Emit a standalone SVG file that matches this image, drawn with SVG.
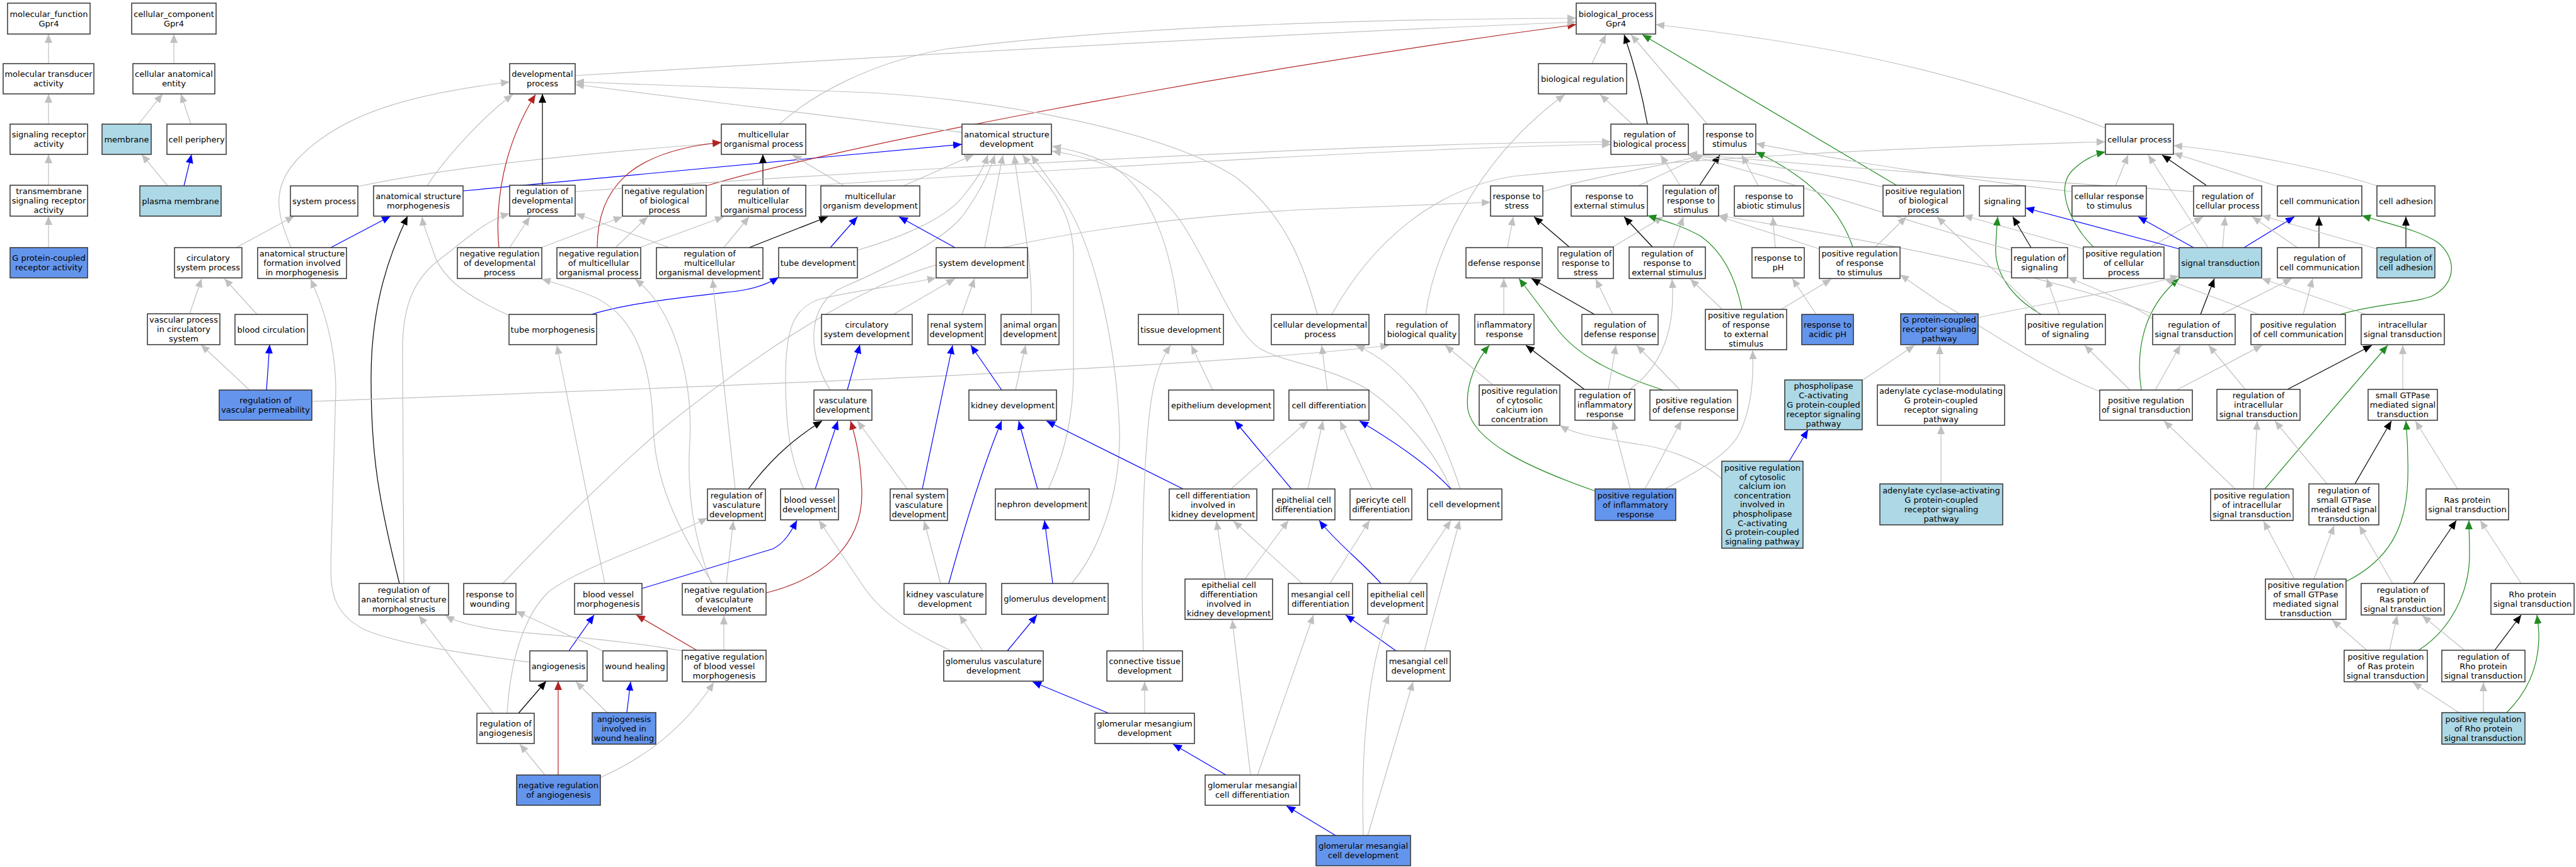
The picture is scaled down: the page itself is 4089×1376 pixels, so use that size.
<svg xmlns="http://www.w3.org/2000/svg" width="4089" height="1376" viewBox="0 0 4089 1376">
<style>
.n rect{stroke:#333;stroke-width:1.5;fill:#fff}
.n.lb rect{fill:#add8e6}
.n.cf rect{fill:#6495ed}
.n text{font-family:"DejaVu Sans",sans-serif;font-size:13px;text-anchor:middle;fill:#000}
#edges path{fill:none;stroke-width:1.2}
#edges .g{stroke:#c0c0c0;marker-end:url(#ag)}
#edges .k{stroke:#000;marker-end:url(#ak)}
#edges .b{stroke:#0000ff;marker-end:url(#ab)}
#edges .r{stroke:#b22222;marker-end:url(#ar)}
#edges .v{stroke:#228b22;marker-end:url(#av)}
</style>
<defs>
<marker id="ag" viewBox="0 0 14 12" markerWidth="14" markerHeight="12" refX="14" refY="6" orient="auto" markerUnits="userSpaceOnUse"><path d="M0,0L14,6L0,12z" fill="#c0c0c0"/></marker>
<marker id="ak" viewBox="0 0 14 12" markerWidth="14" markerHeight="12" refX="14" refY="6" orient="auto" markerUnits="userSpaceOnUse"><path d="M0,0L14,6L0,12z" fill="#000"/></marker>
<marker id="ab" viewBox="0 0 14 12" markerWidth="14" markerHeight="12" refX="14" refY="6" orient="auto" markerUnits="userSpaceOnUse"><path d="M0,0L14,6L0,12z" fill="#0000ff"/></marker>
<marker id="ar" viewBox="0 0 14 12" markerWidth="14" markerHeight="12" refX="14" refY="6" orient="auto" markerUnits="userSpaceOnUse"><path d="M0,0L14,6L0,12z" fill="#b22222"/></marker>
<marker id="av" viewBox="0 0 14 12" markerWidth="14" markerHeight="12" refX="14" refY="6" orient="auto" markerUnits="userSpaceOnUse"><path d="M0,0L14,6L0,12z" fill="#228b22"/></marker>
</defs>
<rect width="4089" height="1376" fill="#fff"/>
<g id="edges">
<path class="g" d="M77,101L77,54"/>
<path class="g" d="M77,197L77,149"/>
<path class="g" d="M77,294L77,245"/>
<path class="g" d="M77,393L77,343"/>
<path class="g" d="M276,101L276,54"/>
<path class="g" d="M220,197L258,149"/>
<path class="g" d="M303,197L287,149"/>
<path class="g" d="M266,295L225,245"/>
<path class="b" d="M292,295L304,245"/>
<path class="g" d="M375,393L467,343"/>
<path class="b" d="M525,393L620,343"/>
<path class="g" d="M462,393C440,340 430,300 470,255C540,180 650,150 809,130"/>
<path class="g" d="M568,296C700,268 900,245 1145,227"/>
<path class="b" d="M735,303L1527,229"/>
<path class="g" d="M678,295C700,260 760,190 814,150"/>
<path class="k" d="M634,926C600,790 589,720 589,600C589,480 620,400 647,343"/>
<path class="g" d="M807,500C740,470 700,440 688,400C680,375 672,360 670,344"/>
<path class="b" d="M939,499C1000,480 1100,470 1170,462C1200,458 1220,450 1236,440"/>
<path class="g" d="M641,926L639,560C638,480 660,440 700,410C740,380 770,350 809,339"/>
<path class="g" d="M396,619L319,547"/>
<path class="b" d="M423,619L428,547"/>
<path class="g" d="M495,637C1100,615 1900,585 2205,548"/>
<path class="g" d="M301,498L320,442"/>
<path class="g" d="M408,499L356,442"/>
<path class="g" d="M841,1051C760,1040 640,1025 580,1000C530,975 525,940 525,900L533,620C533,540 510,480 493,443"/>
<path class="g" d="M783,1132L665,977"/>
<path class="g" d="M1083,1033C1000,1018 900,1010 820,1003C770,998 730,990 707,977"/>
<path class="k" d="M861,294L861,149"/>
<path class="r" d="M792,393C785,320 800,230 850,150"/>
<path class="g" d="M809,393L841,344"/>
<path class="g" d="M859,393L988,344"/>
<path class="r" d="M948,393C948,300 1000,240 1145,226"/>
<path class="g" d="M977,393L1028,344"/>
<path class="g" d="M1015,393L1149,344"/>
<path class="g" d="M1149,393L1189,344"/>
<path class="k" d="M1189,393L1314,344"/>
<path class="g" d="M1062,393L914,339"/>
<path class="k" d="M1211,294L1211,245"/>
<path class="g" d="M1340,295L1258,246"/>
<path class="b" d="M1318,393L1361,344"/>
<path class="g" d="M1361,397C1420,380 1500,350 1530,310C1550,285 1560,270 1568,246"/>
<path class="r" d="M1121,295C1300,240 1900,120 2502,39"/>
<path class="g" d="M913,304C1400,270 2200,225 2557,225"/>
<path class="g" d="M1279,295C1600,275 2200,235 2557,229"/>
<path class="g" d="M1237,197C1290,150 1380,100 1500,78C1800,40 2200,30 2502,29"/>
<path class="g" d="M913,120C1400,90 2000,55 2502,35"/>
<path class="g" d="M1527,210C1420,198 1100,158 913,134"/>
<path class="g" d="M2091,499C2070,420 2040,340 1960,280C1850,210 1600,160 1380,147L913,130"/>
<path class="g" d="M1434,295L1545,246"/>
<path class="g" d="M1563,393L1592,246"/>
<path class="g" d="M1637,499C1640,420 1620,330 1610,246"/>
<path class="g" d="M1664,776C1690,720 1705,660 1704,580L1704,400C1700,320 1650,280 1623,246"/>
<path class="g" d="M1701,926C1740,880 1780,790 1777,680C1770,520 1730,380 1690,320C1670,290 1650,265 1637,246"/>
<path class="g" d="M1871,499C1860,400 1830,300 1760,260C1730,245 1700,238 1670,232"/>
<path class="g" d="M2303,776C2280,720 2230,660 2174,620C2120,585 2040,575 2003,555C1960,530 1930,440 1880,360C1830,280 1740,250 1670,240"/>
<path class="g" d="M1318,619C1280,560 1280,480 1340,455C1420,420 1500,380 1530,340C1555,305 1570,275 1579,246"/>
<path class="g" d="M1276,776C1255,730 1247,680 1247,600C1247,520 1260,490 1300,475C1360,460 1420,455 1486,441"/>
<path class="b" d="M1516,393L1427,344"/>
<path class="g" d="M1418,499L1516,442"/>
<path class="g" d="M1527,499L1547,442"/>
<path class="b" d="M1345,619L1365,547"/>
<path class="g" d="M798,926C880,840 960,760 1040,690C1150,600 1280,510 1380,462C1480,410 1700,355 2060,333L2366,321"/>
<path class="k" d="M1188,776C1230,720 1270,690 1305,668"/>
<path class="b" d="M1294,776L1330,668"/>
<path class="r" d="M1216,941C1300,920 1370,870 1368,780C1366,730 1360,700 1350,668"/>
<path class="g" d="M1153,926L1164,827"/>
<path class="g" d="M805,1132C810,1050 830,980 870,940C920,900 1050,860 1123,822"/>
<path class="b" d="M1019,934L1227,871C1245,862 1255,845 1265,826"/>
<path class="g" d="M1510,1033C1450,1005 1400,975 1370,930L1300,826"/>
<path class="g" d="M1149,1032L1149,977"/>
<path class="r" d="M1106,1032L1010,976"/>
<path class="b" d="M903,1033L943,976"/>
<path class="g" d="M957,1033L819,970"/>
<path class="g" d="M960,926L884,548"/>
<path class="g" d="M1131,926C1070,830 1040,760 1037,680C1034,580 1010,500 940,470C910,458 885,450 860,443"/>
<path class="g" d="M1129,926C1100,850 1090,780 1095,700C1100,600 1070,490 1008,443"/>
<path class="g" d="M1167,776L1131,443"/>
<path class="k" d="M823,1132L867,1081"/>
<path class="r" d="M886,1230L886,1081"/>
<path class="g" d="M865,1230L825,1181"/>
<path class="g" d="M953,1234C1030,1200 1090,1150 1133,1083"/>
<path class="g" d="M964,1131L914,1082"/>
<path class="b" d="M995,1131L1001,1082"/>
<path class="b" d="M1590,619L1541,548"/>
<path class="g" d="M1612,619L1628,548"/>
<path class="b" d="M1647,776L1617,668"/>
<path class="b" d="M1506,926C1530,840 1560,740 1590,668"/>
<path class="b" d="M1878,776L1661,668"/>
<path class="b" d="M1464,776L1512,548"/>
<path class="g" d="M1440,776L1361,668"/>
<path class="g" d="M1493,926L1467,827"/>
<path class="b" d="M1671,926L1658,826"/>
<path class="b" d="M1599,1033L1646,976"/>
<path class="g" d="M1560,1033L1523,976"/>
<path class="b" d="M1760,1132L1639,1082"/>
<path class="g" d="M1817,1132L1817,1082"/>
<path class="g" d="M1815,1033C1810,900 1815,700 1830,620C1838,580 1850,560 1858,548"/>
<path class="g" d="M1925,619L1891,548"/>
<path class="b" d="M2050,776L1960,668"/>
<path class="b" d="M1946,1230L1862,1181"/>
<path class="g" d="M1985,1230L1956,984"/>
<path class="g" d="M1996,1230L2085,976"/>
<path class="g" d="M1945,919L1931,827"/>
<path class="g" d="M1976,919L2045,826"/>
<path class="g" d="M2067,926L1958,827"/>
<path class="g" d="M1954,776L2076,668"/>
<path class="g" d="M2076,776L2100,668"/>
<path class="g" d="M2178,776L2127,668"/>
<path class="b" d="M2303,776C2270,740 2220,705 2158,668"/>
<path class="b" d="M2192,926C2160,890 2120,860 2094,826"/>
<path class="g" d="M2236,926L2303,826"/>
<path class="g" d="M2111,926L2174,826"/>
<path class="b" d="M2216,1033L2136,976"/>
<path class="g" d="M2261,1033C2280,960 2300,890 2317,826"/>
<path class="b" d="M2120,1326L2042,1279"/>
<path class="g" d="M2164,1326C2160,1200 2170,1060 2205,976"/>
<path class="g" d="M2171,1326L2243,1082"/>
<path class="g" d="M2107,619L2098,548"/>
<path class="g" d="M2318,776C2300,720 2270,650 2240,615C2210,580 2180,560 2152,548"/>
<path class="g" d="M2114,499C2180,380 2280,300 2400,280C2700,250 3000,235 3342,225"/>
<path class="g" d="M2527,101L2549,55"/>
<path class="k" d="M2615,197C2605,140 2590,90 2578,55"/>
<path class="g" d="M2591,197L2540,150"/>
<path class="g" d="M2710,197L2589,55"/>
<path class="v" d="M3012,295L2607,55"/>
<path class="g" d="M3342,203C3100,110 2900,70 2628,39"/>
<path class="g" d="M2263,499C2280,380 2360,240 2484,150"/>
<path class="g" d="M2449,304C2550,275 2650,262 2704,246"/>
<path class="g" d="M2600,295L2704,246"/>
<path class="g" d="M2667,294L2636,246"/>
<path class="k" d="M2698,294L2730,246"/>
<path class="g" d="M2393,393L2402,344"/>
<path class="k" d="M2491,392L2435,344"/>
<path class="g" d="M2560,392L2640,344"/>
<path class="k" d="M2623,392L2578,344"/>
<path class="g" d="M2656,392L2672,344"/>
<path class="v" d="M2765,491C2755,440 2735,400 2700,375C2670,358 2640,350 2615,342"/>
<path class="g" d="M2734,491L2683,443"/>
<path class="g" d="M2827,491L2907,443"/>
<path class="g" d="M2387,499L2387,442"/>
<path class="k" d="M2531,499L2431,442"/>
<path class="g" d="M2560,499L2533,443"/>
<path class="v" d="M2640,619C2550,590 2500,560 2470,520C2440,480 2425,460 2411,442"/>
<path class="g" d="M2667,619L2598,548"/>
<path class="k" d="M2515,618L2422,548"/>
<path class="g" d="M2553,618L2565,548"/>
<path class="g" d="M2587,618C2640,580 2660,520 2654,443"/>
<path class="v" d="M2531,779C2420,740 2340,700 2330,650C2325,610 2345,570 2364,548"/>
<path class="g" d="M2588,776L2560,668"/>
<path class="g" d="M2611,776L2669,668"/>
<path class="g" d="M2643,776C2690,750 2740,725 2760,690C2780,650 2784,600 2782,556"/>
<path class="g" d="M2733,760C2700,730 2640,710 2600,705C2540,695 2500,690 2476,675"/>
<path class="g" d="M2370,611L2294,548"/>
<path class="g" d="M2791,295L2765,246"/>
<path class="g" d="M2818,393L2814,344"/>
<path class="g" d="M2883,499L2845,442"/>
<path class="v" d="M2941,392C2920,330 2870,280 2787,241"/>
<path class="g" d="M2977,392L3026,344"/>
<path class="g" d="M2888,395L2728,343"/>
<path class="g" d="M2989,297C2900,275 2750,255 2680,245"/>
<path class="g" d="M3482,304C3200,285 2900,265 2680,244"/>
<path class="g" d="M3289,304C3000,270 2850,240 2787,228"/>
<path class="g" d="M3358,295L3378,246"/>
<path class="v" d="M3323,392C3290,360 3260,300 3290,270C3305,255 3325,245 3342,241"/>
<path class="g" d="M3307,395L3117,342"/>
<path class="g" d="M3412,393L3497,344"/>
<path class="b" d="M3459,395L3215,330"/>
<path class="k" d="M3224,393L3195,344"/>
<path class="v" d="M3240,499C3190,470 3165,430 3168,390C3169,370 3170,355 3171,344"/>
<path class="g" d="M3269,499L3249,442"/>
<path class="g" d="M3238,499C3180,440 3110,380 3075,344"/>
<path class="g" d="M3193,397C3050,360 2850,290 2680,246"/>
<path class="g" d="M3333,621C3250,590 3150,520 3080,480C3050,460 3030,445 3016,436"/>
<path class="g" d="M3381,619L3309,548"/>
<path class="v" d="M3399,619C3390,560 3400,490 3459,442"/>
<path class="g" d="M3421,619L3461,548"/>
<path class="g" d="M3455,619L3591,548"/>
<path class="g" d="M3140,504C3250,480 3380,460 3459,438"/>
<path class="g" d="M2957,603L3039,548"/>
<path class="b" d="M2840,732L2870,682"/>
<path class="g" d="M3079,611L3079,548"/>
<path class="g" d="M3081,768L3081,675"/>
<path class="k" d="M3493,499L3515,442"/>
<path class="g" d="M3526,499L3638,442"/>
<path class="g" d="M3417,506C3380,480 3320,455 3282,440"/>
<path class="g" d="M3420,499C3200,420 2900,370 2728,342"/>
<path class="k" d="M3502,294L3432,246"/>
<path class="g" d="M3613,295L3450,243"/>
<path class="g" d="M3773,295C3700,270 3550,240 3450,231"/>
<path class="g" d="M3505,393L3410,246"/>
<path class="b" d="M3482,393L3394,344"/>
<path class="b" d="M3562,393L3642,344"/>
<path class="g" d="M3528,393L3532,344"/>
<path class="k" d="M3681,393L3681,344"/>
<path class="g" d="M3647,393L3575,344"/>
<path class="k" d="M3819,393L3819,344"/>
<path class="g" d="M3773,395L3590,342"/>
<path class="v" d="M3714,499C3780,480 3830,482 3860,470C3900,450 3900,410 3870,385C3840,365 3790,355 3749,342"/>
<path class="g" d="M3656,499L3671,442"/>
<path class="g" d="M3586,499L3435,442"/>
<path class="g" d="M3756,499L3590,442"/>
<path class="k" d="M3631,618L3765,548"/>
<path class="g" d="M3564,618L3506,548"/>
<path class="g" d="M3814,618L3814,548"/>
<path class="v" d="M3595,776L3790,548"/>
<path class="g" d="M3577,776L3583,668"/>
<path class="g" d="M3548,776L3435,668"/>
<path class="k" d="M3738,768L3796,668"/>
<path class="g" d="M3694,768L3611,668"/>
<path class="g" d="M3901,776L3834,668"/>
<path class="v" d="M3724,923C3790,890 3820,840 3822,760C3823,720 3821,690 3819,668"/>
<path class="g" d="M3642,919L3593,827"/>
<path class="g" d="M3673,919L3705,834"/>
<path class="k" d="M3831,926L3899,826"/>
<path class="g" d="M3798,926L3745,834"/>
<path class="g" d="M4002,926L3937,826"/>
<path class="g" d="M3793,1032L3805,977"/>
<path class="g" d="M3757,1032L3702,984"/>
<path class="v" d="M3839,1032C3890,1000 3920,940 3920,880C3920,855 3919,840 3919,826"/>
<path class="k" d="M3960,1032L4002,976"/>
<path class="g" d="M3912,1032L3845,977"/>
<path class="g" d="M3942,1131L3942,1083"/>
<path class="g" d="M3903,1131L3830,1083"/>
<path class="v" d="M3979,1131C4010,1100 4030,1060 4030,1010C4030,995 4028,985 4027,976"/>
</g>
<g id="nodes">
<g id="mf" class="n"><rect x="12" y="5" width="131" height="49"/><text><tspan x="77.5" y="26.5">molecular_function</tspan><tspan x="77.5" y="41.5">Gpr4</tspan></text></g>
<g id="cc" class="n"><rect x="209" y="5" width="134" height="49"/><text><tspan x="276" y="26.5">cellular_component</tspan><tspan x="276" y="41.5">Gpr4</tspan></text></g>
<g id="bp" class="n"><rect x="2502" y="5" width="126" height="49"/><text><tspan x="2565" y="26.5">biological_process</tspan><tspan x="2565" y="41.5">Gpr4</tspan></text></g>
<g id="mta" class="n"><rect x="5" y="101" width="144" height="48"/><text><tspan x="77" y="122">molecular transducer</tspan><tspan x="77" y="137">activity</tspan></text></g>
<g id="cae" class="n"><rect x="211" y="101" width="130" height="48"/><text><tspan x="276" y="122">cellular anatomical</tspan><tspan x="276" y="137">entity</tspan></text></g>
<g id="dp" class="n"><rect x="809" y="101" width="104" height="48"/><text><tspan x="861" y="122">developmental</tspan><tspan x="861" y="137">process</tspan></text></g>
<g id="br" class="n"><rect x="2442" y="101" width="140" height="48"/><text><tspan x="2512" y="129.5">biological regulation</tspan></text></g>
<g id="sra" class="n"><rect x="16" y="197" width="123" height="48"/><text><tspan x="77.5" y="218">signaling receptor</tspan><tspan x="77.5" y="233">activity</tspan></text></g>
<g id="mem" class="n lb"><rect x="162" y="197" width="78" height="48"/><text><tspan x="201" y="225.5">membrane</tspan></text></g>
<g id="cp" class="n"><rect x="265" y="197" width="94" height="48"/><text><tspan x="312" y="225.5">cell periphery</tspan></text></g>
<g id="mop" class="n"><rect x="1145" y="197" width="134" height="48"/><text><tspan x="1212" y="218">multicellular</tspan><tspan x="1212" y="233">organismal process</tspan></text></g>
<g id="asd" class="n"><rect x="1527" y="197" width="142" height="48"/><text><tspan x="1598" y="218">anatomical structure</tspan><tspan x="1598" y="233">development</tspan></text></g>
<g id="rbp" class="n"><rect x="2557" y="197" width="123" height="48"/><text><tspan x="2618.5" y="218">regulation of</tspan><tspan x="2618.5" y="233">biological process</tspan></text></g>
<g id="rs" class="n"><rect x="2704" y="197" width="83" height="48"/><text><tspan x="2745.5" y="218">response to</tspan><tspan x="2745.5" y="233">stimulus</tspan></text></g>
<g id="cellp" class="n"><rect x="3342" y="197" width="108" height="48"/><text><tspan x="3396" y="225.5">cellular process</tspan></text></g>
<g id="tsra" class="n"><rect x="16" y="294" width="123" height="49"/><text><tspan x="77.5" y="308">transmembrane</tspan><tspan x="77.5" y="323">signaling receptor</tspan><tspan x="77.5" y="338">activity</tspan></text></g>
<g id="pm" class="n lb"><rect x="222" y="295" width="129" height="48"/><text><tspan x="286.5" y="323.5">plasma membrane</tspan></text></g>
<g id="sp" class="n"><rect x="461" y="295" width="107" height="48"/><text><tspan x="514.5" y="323.5">system process</tspan></text></g>
<g id="asm" class="n"><rect x="593" y="295" width="142" height="48"/><text><tspan x="664" y="316">anatomical structure</tspan><tspan x="664" y="331">morphogenesis</tspan></text></g>
<g id="rdp" class="n"><rect x="809" y="294" width="104" height="49"/><text><tspan x="861" y="308">regulation of</tspan><tspan x="861" y="323">developmental</tspan><tspan x="861" y="338">process</tspan></text></g>
<g id="nrbp" class="n"><rect x="988" y="294" width="133" height="49"/><text><tspan x="1054.5" y="308">negative regulation</tspan><tspan x="1054.5" y="323">of biological</tspan><tspan x="1054.5" y="338">process</tspan></text></g>
<g id="rmop" class="n"><rect x="1145" y="294" width="134" height="49"/><text><tspan x="1212" y="308">regulation of</tspan><tspan x="1212" y="323">multicellular</tspan><tspan x="1212" y="338">organismal process</tspan></text></g>
<g id="mod" class="n"><rect x="1303" y="295" width="157" height="48"/><text><tspan x="1381.5" y="316">multicellular</tspan><tspan x="1381.5" y="331">organism development</tspan></text></g>
<g id="rstress" class="n"><rect x="2366" y="295" width="83" height="48"/><text><tspan x="2407.5" y="316">response to</tspan><tspan x="2407.5" y="331">stress</tspan></text></g>
<g id="res" class="n"><rect x="2494" y="295" width="121" height="48"/><text><tspan x="2554.5" y="316">response to</tspan><tspan x="2554.5" y="331">external stimulus</tspan></text></g>
<g id="rrs" class="n"><rect x="2640" y="294" width="88" height="49"/><text><tspan x="2684" y="308">regulation of</tspan><tspan x="2684" y="323">response to</tspan><tspan x="2684" y="338">stimulus</tspan></text></g>
<g id="ras" class="n"><rect x="2753" y="295" width="110" height="48"/><text><tspan x="2808" y="316">response to</tspan><tspan x="2808" y="331">abiotic stimulus</tspan></text></g>
<g id="prbp" class="n"><rect x="2989" y="294" width="128" height="49"/><text><tspan x="3053" y="308">positive regulation</tspan><tspan x="3053" y="323">of biological</tspan><tspan x="3053" y="338">process</tspan></text></g>
<g id="sig" class="n"><rect x="3142" y="295" width="73" height="48"/><text><tspan x="3178.5" y="323.5">signaling</tspan></text></g>
<g id="crs" class="n"><rect x="3289" y="295" width="118" height="48"/><text><tspan x="3348" y="316">cellular response</tspan><tspan x="3348" y="331">to stimulus</tspan></text></g>
<g id="rcp" class="n"><rect x="3482" y="295" width="108" height="48"/><text><tspan x="3536" y="316">regulation of</tspan><tspan x="3536" y="331">cellular process</tspan></text></g>
<g id="cc2" class="n"><rect x="3615" y="295" width="134" height="48"/><text><tspan x="3682" y="323.5">cell communication</tspan></text></g>
<g id="ca" class="n"><rect x="3773" y="295" width="92" height="48"/><text><tspan x="3819" y="323.5">cell adhesion</tspan></text></g>
<g id="gpcra" class="n cf"><rect x="16" y="393" width="123" height="48"/><text><tspan x="77.5" y="414">G protein-coupled</tspan><tspan x="77.5" y="429">receptor activity</tspan></text></g>
<g id="csp" class="n"><rect x="277" y="393" width="107" height="48"/><text><tspan x="330.5" y="414">circulatory</tspan><tspan x="330.5" y="429">system process</tspan></text></g>
<g id="asf" class="n"><rect x="409" y="393" width="141" height="49"/><text><tspan x="479.5" y="407">anatomical structure</tspan><tspan x="479.5" y="422">formation involved</tspan><tspan x="479.5" y="437">in morphogenesis</tspan></text></g>
<g id="nrdp" class="n"><rect x="726" y="393" width="134" height="49"/><text><tspan x="793" y="407">negative regulation</tspan><tspan x="793" y="422">of developmental</tspan><tspan x="793" y="437">process</tspan></text></g>
<g id="nrmop" class="n"><rect x="884" y="393" width="133" height="49"/><text><tspan x="950.5" y="407">negative regulation</tspan><tspan x="950.5" y="422">of multicellular</tspan><tspan x="950.5" y="437">organismal process</tspan></text></g>
<g id="rmod" class="n"><rect x="1042" y="393" width="169" height="49"/><text><tspan x="1126.5" y="407">regulation of</tspan><tspan x="1126.5" y="422">multicellular</tspan><tspan x="1126.5" y="437">organismal development</tspan></text></g>
<g id="td" class="n"><rect x="1236" y="393" width="125" height="48"/><text><tspan x="1298.5" y="421.5">tube development</tspan></text></g>
<g id="sd" class="n"><rect x="1486" y="393" width="145" height="48"/><text><tspan x="1558.5" y="421.5">system development</tspan></text></g>
<g id="dr" class="n"><rect x="2327" y="393" width="121" height="48"/><text><tspan x="2387.5" y="421.5">defense response</tspan></text></g>
<g id="rrstress" class="n"><rect x="2473" y="392" width="88" height="50"/><text><tspan x="2517" y="406.5">regulation of</tspan><tspan x="2517" y="421.5">response to</tspan><tspan x="2517" y="436.5">stress</tspan></text></g>
<g id="rres" class="n"><rect x="2586" y="392" width="121" height="50"/><text><tspan x="2646.5" y="406.5">regulation of</tspan><tspan x="2646.5" y="421.5">response to</tspan><tspan x="2646.5" y="436.5">external stimulus</tspan></text></g>
<g id="rph" class="n"><rect x="2781" y="393" width="83" height="48"/><text><tspan x="2822.5" y="414">response to</tspan><tspan x="2822.5" y="429">pH</tspan></text></g>
<g id="prrs" class="n"><rect x="2888" y="392" width="128" height="50"/><text><tspan x="2952" y="406.5">positive regulation</tspan><tspan x="2952" y="421.5">of response</tspan><tspan x="2952" y="436.5">to stimulus</tspan></text></g>
<g id="rsig" class="n"><rect x="3193" y="393" width="89" height="48"/><text><tspan x="3237.5" y="414">regulation of</tspan><tspan x="3237.5" y="429">signaling</tspan></text></g>
<g id="prcp" class="n"><rect x="3307" y="392" width="128" height="50"/><text><tspan x="3371" y="406.5">positive regulation</tspan><tspan x="3371" y="421.5">of cellular</tspan><tspan x="3371" y="436.5">process</tspan></text></g>
<g id="st" class="n lb"><rect x="3459" y="393" width="131" height="48"/><text><tspan x="3524.5" y="421.5">signal transduction</tspan></text></g>
<g id="rcc" class="n"><rect x="3615" y="393" width="134" height="48"/><text><tspan x="3682" y="414">regulation of</tspan><tspan x="3682" y="429">cell communication</tspan></text></g>
<g id="rca" class="n lb"><rect x="3773" y="393" width="92" height="48"/><text><tspan x="3819" y="414">regulation of</tspan><tspan x="3819" y="429">cell adhesion</tspan></text></g>
<g id="vpcs" class="n"><rect x="234" y="498" width="115" height="49"/><text><tspan x="291.5" y="512">vascular process</tspan><tspan x="291.5" y="527">in circulatory</tspan><tspan x="291.5" y="542">system</tspan></text></g>
<g id="bc" class="n"><rect x="373" y="499" width="115" height="48"/><text><tspan x="430.5" y="527.5">blood circulation</tspan></text></g>
<g id="tm" class="n"><rect x="808" y="499" width="139" height="48"/><text><tspan x="877.5" y="527.5">tube morphogenesis</tspan></text></g>
<g id="csd" class="n"><rect x="1304" y="499" width="144" height="48"/><text><tspan x="1376" y="520">circulatory</tspan><tspan x="1376" y="535">system development</tspan></text></g>
<g id="rsd" class="n"><rect x="1473" y="499" width="91" height="48"/><text><tspan x="1518.5" y="520">renal system</tspan><tspan x="1518.5" y="535">development</tspan></text></g>
<g id="aod" class="n"><rect x="1589" y="499" width="92" height="48"/><text><tspan x="1635" y="520">animal organ</tspan><tspan x="1635" y="535">development</tspan></text></g>
<g id="tisd" class="n"><rect x="1807" y="499" width="135" height="48"/><text><tspan x="1874.5" y="527.5">tissue development</tspan></text></g>
<g id="cdp" class="n"><rect x="2018" y="499" width="155" height="48"/><text><tspan x="2095.5" y="520">cellular developmental</tspan><tspan x="2095.5" y="535">process</tspan></text></g>
<g id="rbq" class="n"><rect x="2198" y="499" width="118" height="48"/><text><tspan x="2257" y="520">regulation of</tspan><tspan x="2257" y="535">biological quality</tspan></text></g>
<g id="ir" class="n"><rect x="2341" y="499" width="94" height="48"/><text><tspan x="2388" y="520">inflammatory</tspan><tspan x="2388" y="535">response</tspan></text></g>
<g id="rdr" class="n"><rect x="2511" y="499" width="121" height="48"/><text><tspan x="2571.5" y="520">regulation of</tspan><tspan x="2571.5" y="535">defense response</tspan></text></g>
<g id="prres" class="n"><rect x="2707" y="491" width="129" height="64"/><text><tspan x="2771.5" y="505">positive regulation</tspan><tspan x="2771.5" y="520">of response</tspan><tspan x="2771.5" y="535">to external</tspan><tspan x="2771.5" y="550">stimulus</tspan></text></g>
<g id="racph" class="n cf"><rect x="2860" y="499" width="82" height="48"/><text><tspan x="2901" y="520">response to</tspan><tspan x="2901" y="535">acidic pH</tspan></text></g>
<g id="gpcrsp" class="n cf"><rect x="3017" y="498" width="123" height="49"/><text><tspan x="3078.5" y="512">G protein-coupled</tspan><tspan x="3078.5" y="527">receptor signaling</tspan><tspan x="3078.5" y="542">pathway</tspan></text></g>
<g id="prsig" class="n"><rect x="3215" y="499" width="127" height="48"/><text><tspan x="3278.5" y="520">positive regulation</tspan><tspan x="3278.5" y="535">of signaling</tspan></text></g>
<g id="rst" class="n"><rect x="3417" y="499" width="131" height="48"/><text><tspan x="3482.5" y="520">regulation of</tspan><tspan x="3482.5" y="535">signal transduction</tspan></text></g>
<g id="prcc" class="n"><rect x="3573" y="499" width="150" height="48"/><text><tspan x="3648" y="520">positive regulation</tspan><tspan x="3648" y="535">of cell communication</tspan></text></g>
<g id="ist" class="n"><rect x="3748" y="499" width="132" height="48"/><text><tspan x="3814" y="520">intracellular</tspan><tspan x="3814" y="535">signal transduction</tspan></text></g>
<g id="rvp" class="n cf"><rect x="348" y="619" width="147" height="48"/><text><tspan x="421.5" y="640">regulation of</tspan><tspan x="421.5" y="655">vascular permeability</tspan></text></g>
<g id="vd" class="n"><rect x="1292" y="619" width="92" height="48"/><text><tspan x="1338" y="640">vasculature</tspan><tspan x="1338" y="655">development</tspan></text></g>
<g id="kd" class="n"><rect x="1538" y="619" width="139" height="48"/><text><tspan x="1607.5" y="647.5">kidney development</tspan></text></g>
<g id="ed" class="n"><rect x="1855" y="619" width="167" height="48"/><text><tspan x="1938.5" y="647.5">epithelium development</tspan></text></g>
<g id="cdiff" class="n"><rect x="2046" y="619" width="127" height="48"/><text><tspan x="2109.5" y="647.5">cell differentiation</tspan></text></g>
<g id="prcca" class="n"><rect x="2348" y="611" width="128" height="64"/><text><tspan x="2412" y="625">positive regulation</tspan><tspan x="2412" y="640">of cytosolic</tspan><tspan x="2412" y="655">calcium ion</tspan><tspan x="2412" y="670">concentration</tspan></text></g>
<g id="rir" class="n"><rect x="2500" y="618" width="95" height="49"/><text><tspan x="2547.5" y="632">regulation of</tspan><tspan x="2547.5" y="647">inflammatory</tspan><tspan x="2547.5" y="662">response</tspan></text></g>
<g id="prdr" class="n"><rect x="2619" y="619" width="139" height="48"/><text><tspan x="2688.5" y="640">positive regulation</tspan><tspan x="2688.5" y="655">of defense response</tspan></text></g>
<g id="plc" class="n lb"><rect x="2833" y="603" width="123" height="79"/><text><tspan x="2894.5" y="617">phospholipase</tspan><tspan x="2894.5" y="632">C-activating</tspan><tspan x="2894.5" y="647">G protein-coupled</tspan><tspan x="2894.5" y="662">receptor signaling</tspan><tspan x="2894.5" y="677">pathway</tspan></text></g>
<g id="acm" class="n"><rect x="2980" y="611" width="202" height="64"/><text><tspan x="3081" y="625">adenylate cyclase-modulating</tspan><tspan x="3081" y="640">G protein-coupled</tspan><tspan x="3081" y="655">receptor signaling</tspan><tspan x="3081" y="670">pathway</tspan></text></g>
<g id="prst" class="n"><rect x="3333" y="619" width="147" height="48"/><text><tspan x="3406.5" y="640">positive regulation</tspan><tspan x="3406.5" y="655">of signal transduction</tspan></text></g>
<g id="rist" class="n"><rect x="3519" y="618" width="132" height="49"/><text><tspan x="3585" y="632">regulation of</tspan><tspan x="3585" y="647">intracellular</tspan><tspan x="3585" y="662">signal transduction</tspan></text></g>
<g id="sgtp" class="n"><rect x="3759" y="618" width="110" height="49"/><text><tspan x="3814" y="632">small GTPase</tspan><tspan x="3814" y="647">mediated signal</tspan><tspan x="3814" y="662">transduction</tspan></text></g>
<g id="rvd" class="n"><rect x="1123" y="776" width="92" height="50"/><text><tspan x="1169" y="790.5">regulation of</tspan><tspan x="1169" y="805.5">vasculature</tspan><tspan x="1169" y="820.5">development</tspan></text></g>
<g id="bvd" class="n"><rect x="1239" y="776" width="92" height="49"/><text><tspan x="1285" y="797.5">blood vessel</tspan><tspan x="1285" y="812.5">development</tspan></text></g>
<g id="rsvd" class="n"><rect x="1413" y="776" width="91" height="50"/><text><tspan x="1458.5" y="790.5">renal system</tspan><tspan x="1458.5" y="805.5">vasculature</tspan><tspan x="1458.5" y="820.5">development</tspan></text></g>
<g id="nd" class="n"><rect x="1580" y="776" width="149" height="49"/><text><tspan x="1654.5" y="805">nephron development</tspan></text></g>
<g id="cdikd" class="n"><rect x="1856" y="776" width="139" height="50"/><text><tspan x="1925.5" y="790.5">cell differentiation</tspan><tspan x="1925.5" y="805.5">involved in</tspan><tspan x="1925.5" y="820.5">kidney development</tspan></text></g>
<g id="ecd" class="n"><rect x="2020" y="776" width="99" height="49"/><text><tspan x="2069.5" y="797.5">epithelial cell</tspan><tspan x="2069.5" y="812.5">differentiation</tspan></text></g>
<g id="pcd" class="n"><rect x="2143" y="776" width="98" height="49"/><text><tspan x="2192" y="797.5">pericyte cell</tspan><tspan x="2192" y="812.5">differentiation</tspan></text></g>
<g id="celldev" class="n"><rect x="2266" y="776" width="118" height="49"/><text><tspan x="2325" y="805">cell development</tspan></text></g>
<g id="prir" class="n cf"><rect x="2532" y="776" width="128" height="50"/><text><tspan x="2596" y="790.5">positive regulation</tspan><tspan x="2596" y="805.5">of inflammatory</tspan><tspan x="2596" y="820.5">response</tspan></text></g>
<g id="prccaplc" class="n lb"><rect x="2733" y="732" width="129" height="138"/><text><tspan x="2797.5" y="747">positive regulation</tspan><tspan x="2797.5" y="761.6">of cytosolic</tspan><tspan x="2797.5" y="776.2">calcium ion</tspan><tspan x="2797.5" y="790.8">concentration</tspan><tspan x="2797.5" y="805.4">involved in</tspan><tspan x="2797.5" y="820">phospholipase</tspan><tspan x="2797.5" y="834.6">C-activating</tspan><tspan x="2797.5" y="849.2">G protein-coupled</tspan><tspan x="2797.5" y="863.8">signaling pathway</tspan></text></g>
<g id="aca" class="n lb"><rect x="2984" y="768" width="195" height="65"/><text><tspan x="3081.5" y="782.5">adenylate cyclase-activating</tspan><tspan x="3081.5" y="797.5">G protein-coupled</tspan><tspan x="3081.5" y="812.5">receptor signaling</tspan><tspan x="3081.5" y="827.5">pathway</tspan></text></g>
<g id="prist" class="n"><rect x="3509" y="776" width="131" height="50"/><text><tspan x="3574.5" y="790.5">positive regulation</tspan><tspan x="3574.5" y="805.5">of intracellular</tspan><tspan x="3574.5" y="820.5">signal transduction</tspan></text></g>
<g id="rsgtp" class="n"><rect x="3665" y="768" width="111" height="65"/><text><tspan x="3720.5" y="782.5">regulation of</tspan><tspan x="3720.5" y="797.5">small GTPase</tspan><tspan x="3720.5" y="812.5">mediated signal</tspan><tspan x="3720.5" y="827.5">transduction</tspan></text></g>
<g id="rasst" class="n"><rect x="3851" y="776" width="131" height="49"/><text><tspan x="3916.5" y="797.5">Ras protein</tspan><tspan x="3916.5" y="812.5">signal transduction</tspan></text></g>
<g id="rasm" class="n"><rect x="570" y="926" width="142" height="50"/><text><tspan x="641" y="940.5">regulation of</tspan><tspan x="641" y="955.5">anatomical structure</tspan><tspan x="641" y="970.5">morphogenesis</tspan></text></g>
<g id="rw" class="n"><rect x="736" y="926" width="83" height="49"/><text><tspan x="777.5" y="947.5">response to</tspan><tspan x="777.5" y="962.5">wounding</tspan></text></g>
<g id="bvm" class="n"><rect x="912" y="926" width="107" height="49"/><text><tspan x="965.5" y="947.5">blood vessel</tspan><tspan x="965.5" y="962.5">morphogenesis</tspan></text></g>
<g id="nrvd" class="n"><rect x="1083" y="926" width="133" height="50"/><text><tspan x="1149.5" y="940.5">negative regulation</tspan><tspan x="1149.5" y="955.5">of vasculature</tspan><tspan x="1149.5" y="970.5">development</tspan></text></g>
<g id="kvd" class="n"><rect x="1435" y="926" width="130" height="49"/><text><tspan x="1500" y="947.5">kidney vasculature</tspan><tspan x="1500" y="962.5">development</tspan></text></g>
<g id="gd" class="n"><rect x="1590" y="926" width="169" height="49"/><text><tspan x="1674.5" y="955">glomerulus development</tspan></text></g>
<g id="ecdikd" class="n"><rect x="1881" y="919" width="139" height="64"/><text><tspan x="1950.5" y="933">epithelial cell</tspan><tspan x="1950.5" y="948">differentiation</tspan><tspan x="1950.5" y="963">involved in</tspan><tspan x="1950.5" y="978">kidney development</tspan></text></g>
<g id="mcd" class="n"><rect x="2045" y="926" width="102" height="49"/><text><tspan x="2096" y="947.5">mesangial cell</tspan><tspan x="2096" y="962.5">differentiation</tspan></text></g>
<g id="ecdev" class="n"><rect x="2171" y="926" width="94" height="49"/><text><tspan x="2218" y="947.5">epithelial cell</tspan><tspan x="2218" y="962.5">development</tspan></text></g>
<g id="prsgtp" class="n"><rect x="3596" y="919" width="128" height="64"/><text><tspan x="3660" y="933">positive regulation</tspan><tspan x="3660" y="948">of small GTPase</tspan><tspan x="3660" y="963">mediated signal</tspan><tspan x="3660" y="978">transduction</tspan></text></g>
<g id="rrasst" class="n"><rect x="3748" y="926" width="132" height="50"/><text><tspan x="3814" y="940.5">regulation of</tspan><tspan x="3814" y="955.5">Ras protein</tspan><tspan x="3814" y="970.5">signal transduction</tspan></text></g>
<g id="rhost" class="n"><rect x="3954" y="926" width="132" height="49"/><text><tspan x="4020" y="947.5">Rho protein</tspan><tspan x="4020" y="962.5">signal transduction</tspan></text></g>
<g id="ang" class="n"><rect x="841" y="1033" width="91" height="48"/><text><tspan x="886.5" y="1061.5">angiogenesis</tspan></text></g>
<g id="wh" class="n"><rect x="957" y="1033" width="102" height="48"/><text><tspan x="1008" y="1061.5">wound healing</tspan></text></g>
<g id="nrbvm" class="n"><rect x="1083" y="1032" width="133" height="50"/><text><tspan x="1149.5" y="1046.5">negative regulation</tspan><tspan x="1149.5" y="1061.5">of blood vessel</tspan><tspan x="1149.5" y="1076.5">morphogenesis</tspan></text></g>
<g id="gvd" class="n"><rect x="1498" y="1033" width="158" height="48"/><text><tspan x="1577" y="1054">glomerulus vasculature</tspan><tspan x="1577" y="1069">development</tspan></text></g>
<g id="ctd" class="n"><rect x="1757" y="1033" width="120" height="48"/><text><tspan x="1817" y="1054">connective tissue</tspan><tspan x="1817" y="1069">development</tspan></text></g>
<g id="mcdev" class="n"><rect x="2201" y="1033" width="101" height="48"/><text><tspan x="2251.5" y="1054">mesangial cell</tspan><tspan x="2251.5" y="1069">development</tspan></text></g>
<g id="prrasst" class="n"><rect x="3721" y="1032" width="132" height="50"/><text><tspan x="3787" y="1046.5">positive regulation</tspan><tspan x="3787" y="1061.5">of Ras protein</tspan><tspan x="3787" y="1076.5">signal transduction</tspan></text></g>
<g id="rrhost" class="n"><rect x="3876" y="1032" width="132" height="50"/><text><tspan x="3942" y="1046.5">regulation of</tspan><tspan x="3942" y="1061.5">Rho protein</tspan><tspan x="3942" y="1076.5">signal transduction</tspan></text></g>
<g id="rang" class="n"><rect x="757" y="1132" width="91" height="48"/><text><tspan x="802.5" y="1153">regulation of</tspan><tspan x="802.5" y="1168">angiogenesis</tspan></text></g>
<g id="awh" class="n cf"><rect x="940" y="1131" width="101" height="50"/><text><tspan x="990.5" y="1145.5">angiogenesis</tspan><tspan x="990.5" y="1160.5">involved in</tspan><tspan x="990.5" y="1175.5">wound healing</tspan></text></g>
<g id="gmd" class="n"><rect x="1738" y="1132" width="158" height="48"/><text><tspan x="1817" y="1153">glomerular mesangium</tspan><tspan x="1817" y="1168">development</tspan></text></g>
<g id="prrhost" class="n lb"><rect x="3876" y="1131" width="132" height="50"/><text><tspan x="3942" y="1145.5">positive regulation</tspan><tspan x="3942" y="1160.5">of Rho protein</tspan><tspan x="3942" y="1175.5">signal transduction</tspan></text></g>
<g id="nrang" class="n cf"><rect x="820" y="1230" width="133" height="48"/><text><tspan x="886.5" y="1251">negative regulation</tspan><tspan x="886.5" y="1266">of angiogenesis</tspan></text></g>
<g id="gmcd" class="n"><rect x="1913" y="1230" width="150" height="48"/><text><tspan x="1988" y="1251">glomerular mesangial</tspan><tspan x="1988" y="1266">cell differentiation</tspan></text></g>
<g id="gmcdev" class="n cf"><rect x="2089" y="1326" width="150" height="48"/><text><tspan x="2164" y="1347">glomerular mesangial</tspan><tspan x="2164" y="1362">cell development</tspan></text></g>
</g>
</svg>
